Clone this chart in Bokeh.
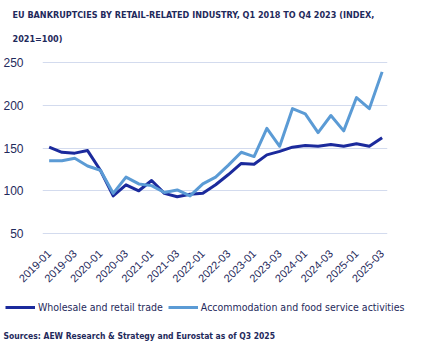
import math
from bokeh.plotting import figure
from bokeh.layouts import column, row
from bokeh.models import FixedTicker, Legend, LegendItem, Title, Range1d, Label
from bokeh.embed import file_html
from bokeh.resources import INLINE

quarters = ["2019-01", "2019-02", "2019-03", "2019-04",
            "2020-01", "2020-02", "2020-03", "2020-04",
            "2021-01", "2021-02", "2021-03", "2021-04",
            "2022-01", "2022-02", "2022-03", "2022-04",
            "2023-01", "2023-02", "2023-03", "2023-04",
            "2024-01", "2024-02", "2024-03", "2024-04",
            "2025-01", "2025-02", "2025-03"]
wholesale = [151, 145, 144, 147, 124, 94, 107, 100, 112, 97, 93, 96, 97, 107,
             119, 132, 131, 142, 146, 151, 153, 152, 154, 152, 155, 152, 162]
accommodation = [135, 135, 138, 129, 124, 97, 116, 108, 106, 98, 101, 94, 108, 116,
                 130, 145, 140, 173, 152, 196, 190, 168, 188, 170, 209, 196, 239]
y_ticks = [50, 100, 150, 200, 250]
series_names = ["Wholesale and retail trade", "Accommodation and food service activities"]
title_lines = ["EU BANKRUPTCIES BY RETAIL-RELATED INDUSTRY, Q1 2018 TO Q4 2023 (INDEX,",
               "2021=100)"]
source_text = "Sources: AEW Research & Strategy and Eurostat as of Q3 2025"

NAVY = "#1f2a5c"
DARK = "#1b2a9c"
LIGHT = "#5b9bd5"
COND = "DejaVu Sans Condensed"

x = list(range(len(quarters)))

# ---- main chart ----
p = figure(width=422, height=288, x_range=Range1d(-0.52, 26.42),
           y_range=Range1d(47.7, 252.3), output_backend="svg",
           toolbar_location=None, min_border_left=40, min_border_right=35,
           min_border_top=60, min_border_bottom=52)
p.outline_line_color = None
p.background_fill_color = "white"
p.border_fill_color = "white"
p.xgrid.visible = False
p.ygrid.grid_line_color = "#d3dbee"
p.ygrid.grid_line_width = 1

p.yaxis.ticker = FixedTicker(ticks=y_ticks)
p.yaxis.axis_line_color = None
p.yaxis.major_tick_line_color = None
p.yaxis.minor_tick_line_color = None
p.yaxis.major_label_standoff = 13
p.yaxis.major_label_text_font = "Liberation Sans"
p.yaxis.major_label_text_font_size = "12px"
p.yaxis.major_label_text_color = NAVY

p.xaxis.ticker = FixedTicker(ticks=list(range(0, len(quarters), 2)))
p.xaxis.major_label_overrides = {i: quarters[i] for i in range(0, len(quarters), 2)}
p.xaxis.major_label_orientation = math.pi / 4
p.xaxis.axis_line_color = None
p.xaxis.major_tick_line_color = None
p.xaxis.minor_tick_line_color = None
p.xaxis.major_label_standoff = 10
p.xaxis.major_label_text_font = "Liberation Sans"
p.xaxis.major_label_text_font_size = "11px"
p.xaxis.major_label_text_color = NAVY

p.line(x, wholesale, line_color=DARK, line_width=3, line_join="round")
p.line(x, accommodation, line_color=LIGHT, line_width=3, line_join="round")

p.add_layout(Title(text=title_lines[1], align="left", offset=-30, text_font=COND,
                   text_font_style="bold", text_font_size="9px", text_color=NAVY,
                   standoff=33), "above")
p.add_layout(Title(text=title_lines[0], align="left", offset=-30, text_font=COND,
                   text_font_style="bold", text_font_size="9px", text_color=NAVY,
                   standoff=-9), "above")

# ---- legend + source strip (series drawn outside its visible range, keys only) ----
q = figure(width=422, height=53, x_range=Range1d(0, 422), y_range=Range1d(0, 53),
           output_backend="svg", toolbar_location=None,
           x_axis_location=None, y_axis_location=None,
           min_border_left=0, min_border_right=0, min_border_top=0, min_border_bottom=0)
q.grid.visible = False
q.outline_line_color = None
q.background_fill_color = "white"
q.border_fill_color = "white"
k1 = q.line(x, wholesale, line_color=DARK, line_width=3)
k2 = q.line(x, accommodation, line_color=LIGHT, line_width=3)
legend = Legend(items=[LegendItem(label=series_names[0], renderers=[k1]),
                       LegendItem(label=series_names[1], renderers=[k2])],
                location=(5, 27), orientation="horizontal")
legend.label_text_font = COND
legend.label_text_font_size = "10.5px"
legend.label_text_color = NAVY
legend.glyph_width = 30
legend.glyph_height = 14
legend.label_height = 14
legend.label_standoff = 3
legend.spacing = 5
legend.padding = 0
legend.margin = 0
legend.border_line_color = None
legend.background_fill_alpha = 0
q.add_layout(legend)

q.add_layout(Label(x=3, y=6, x_units="screen", y_units="screen", text=source_text,
                   text_font=COND, text_font_style="bold", text_font_size="8.5px",
                   text_color=NAVY, text_baseline="alphabetic"))

open("out.html", "w").write(file_html(column(p, row(q), spacing=0), INLINE))
